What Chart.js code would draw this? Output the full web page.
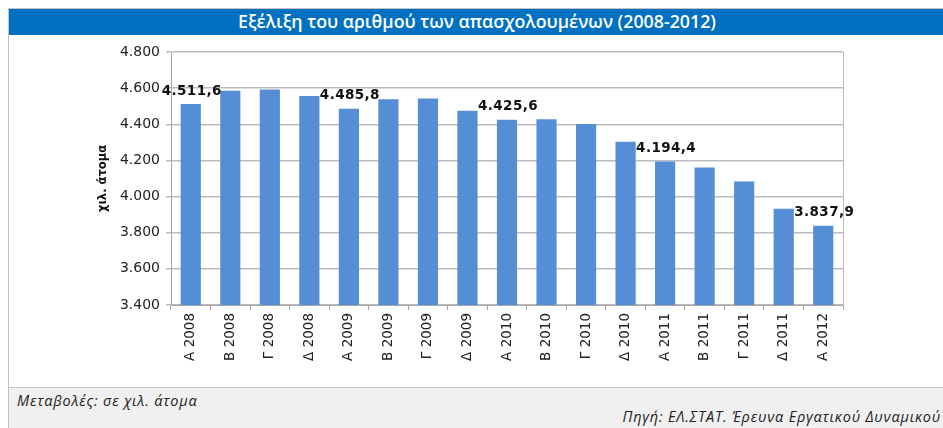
<!DOCTYPE html>
<html>
<head>
<meta charset="utf-8">
<script src="https://cdn.jsdelivr.net/npm/chart.js@4"></script>
<style>
  body { margin: 0; background: #fff; width: 943px; height: 428px; overflow: hidden; position: relative; }
  #frame { position: absolute; left: 8px; top: 8px; right: 0; bottom: 0; border-left: 1px solid #c4c4c4; border-top: 1px solid #c4c4c4; }
  #title { position: absolute; left: 9px; top: 9px; right: 0; height: 26px; background: #0070c0; color: #fff;
           text-align: center; font: 600 17.8px/25px "Open Sans", sans-serif; padding-left: 2px; box-sizing: border-box; }
  #chartBox { position: absolute; left: 9px; top: 35px; width: 934px; height: 352px; }
  #footer { position: absolute; left: 9px; top: 387px; right: 0; bottom: 0; background: #f0f0f0; border-top: 1px solid #c8c8c8; }
  .note { position: absolute; font: italic 14.5px "Open Sans", sans-serif; letter-spacing: 0.8px; color: #222; white-space: nowrap; }
</style>
</head>
<body>
<div id="frame"></div>
<div id="title">Εξέλιξη του αριθμού των απασχολουμένων (2008-2012)</div>
<div id="chartBox"><canvas id="chart" width="934" height="352"></canvas></div>
<div id="footer">
  <div class="note" style="left:8px; top:3px;">Μεταβολές: σε χιλ. άτομα</div>
  <div class="note" style="right:2px; top:19px;">Πηγή: ΕΛ.ΣΤΑΤ. Έρευνα Εργατικού Δυναμικού</div>
</div>

<script>
// quarters (Greek quarter letters + year)
const quarters = [
  'Α 2008', 'Β 2008', 'Γ 2008', 'Δ 2008',
  'Α 2009', 'Β 2009', 'Γ 2009', 'Δ 2009',
  'Α 2010', 'Β 2010', 'Γ 2010', 'Δ 2010',
  'Α 2011', 'Β 2011', 'Γ 2011', 'Δ 2011',
  'Α 2012'
];

// employed persons, thousands
const employed = [
  4511.6, 4585, 4593, 4557,
  4485.8, 4538, 4543, 4475,
  4425.6, 4428, 4402, 4304,
  4194.4, 4161, 4083, 3933,
  3837.9
];

// bars that carry a value label (first quarter of each year)
const labelledIdx = [0, 4, 8, 12, 16];

const yMin = 3400;
const yMax = 4800;
const yStep = 200;

// greek number format: 4.511,6
function fmtNum(v, dec) {
  const parts = v.toFixed(dec).split('.');
  const intPart = parts[0].replace(/\B(?=(\d{3})+(?!\d))/g, '.');
  return parts.length > 1 ? intPart + ',' + parts[1] : intPart;
}

const gridColor = '#bcbcbc';
const axisColor = '#a6a6a6';

// right border of the plot area
const plotFrame = {
  id: 'plotFrame',
  beforeDatasetsDraw(chart) {
    const { ctx, chartArea } = chart;
    ctx.save();
    ctx.strokeStyle = gridColor;
    ctx.lineWidth = 1;
    ctx.beginPath();
    ctx.moveTo(chartArea.right + 0.5, chartArea.top);
    ctx.lineTo(chartArea.right + 0.5, chartArea.bottom);
    ctx.stroke();
    ctx.restore();
  }
};

// value labels above selected bars
const valueLabels = {
  id: 'valueLabels',
  afterDatasetsDraw(chart) {
    const { ctx } = chart;
    const meta = chart.getDatasetMeta(0);
    ctx.save();
    ctx.font = 'bold 13.5px "DejaVu Sans"';
    ctx.letterSpacing = '0.4px';
    ctx.fillStyle = '#111';
    ctx.textAlign = 'center';
    ctx.textBaseline = 'middle';
    labelledIdx.forEach(i => {
      const bar = meta.data[i];
      ctx.fillText(fmtNum(employed[i], 1), bar.x + 1, bar.y - 13);
    });
    ctx.restore();
  }
};

const padLeft = 87;

new Chart(document.getElementById('chart'), {
  type: 'bar',
  data: {
    labels: quarters,
    datasets: [{
      data: employed,
      backgroundColor: '#558ed5',
      borderWidth: 0,
      barPercentage: 0.51,
      categoryPercentage: 1
    }]
  },
  options: {
    responsive: false,
    animation: false,
    layout: { padding: { left: padLeft, top: 17, right: 100, bottom: 0 } },
    plugins: {
      legend: { display: false },
      tooltip: { enabled: false }
    },
    scales: {
      x: {
        grid: { offset: true, drawOnChartArea: false, drawTicks: true, tickLength: 5, color: axisColor },
        border: { color: axisColor },
        ticks: {
          autoSkip: false,
          maxRotation: 90,
          minRotation: 90,
          padding: 3,
          color: '#222',
          font: { family: 'DejaVu Sans', size: 13.5 }
        },
        afterFit: s => { s.height = 82; }
      },
      y: {
        min: yMin,
        max: yMax,
        grid: { color: gridColor, lineWidth: 1.5, tickLength: 5 },
        border: { color: axisColor },
        ticks: {
          stepSize: yStep,
          padding: 6,
          color: '#222',
          font: { family: 'DejaVu Sans', size: 14 },
          callback: v => fmtNum(v, 0)
        },
        title: {
          display: true,
          text: 'χιλ. άτομα',
          color: '#111',
          padding: 0,
          font: { family: 'DejaVu Sans', size: 11.5, weight: 'bold' }
        },
        afterFit: s => { s.width = 162 - padLeft; }
      }
    }
  },
  plugins: [plotFrame, valueLabels]
});
</script>
</body>
</html>
